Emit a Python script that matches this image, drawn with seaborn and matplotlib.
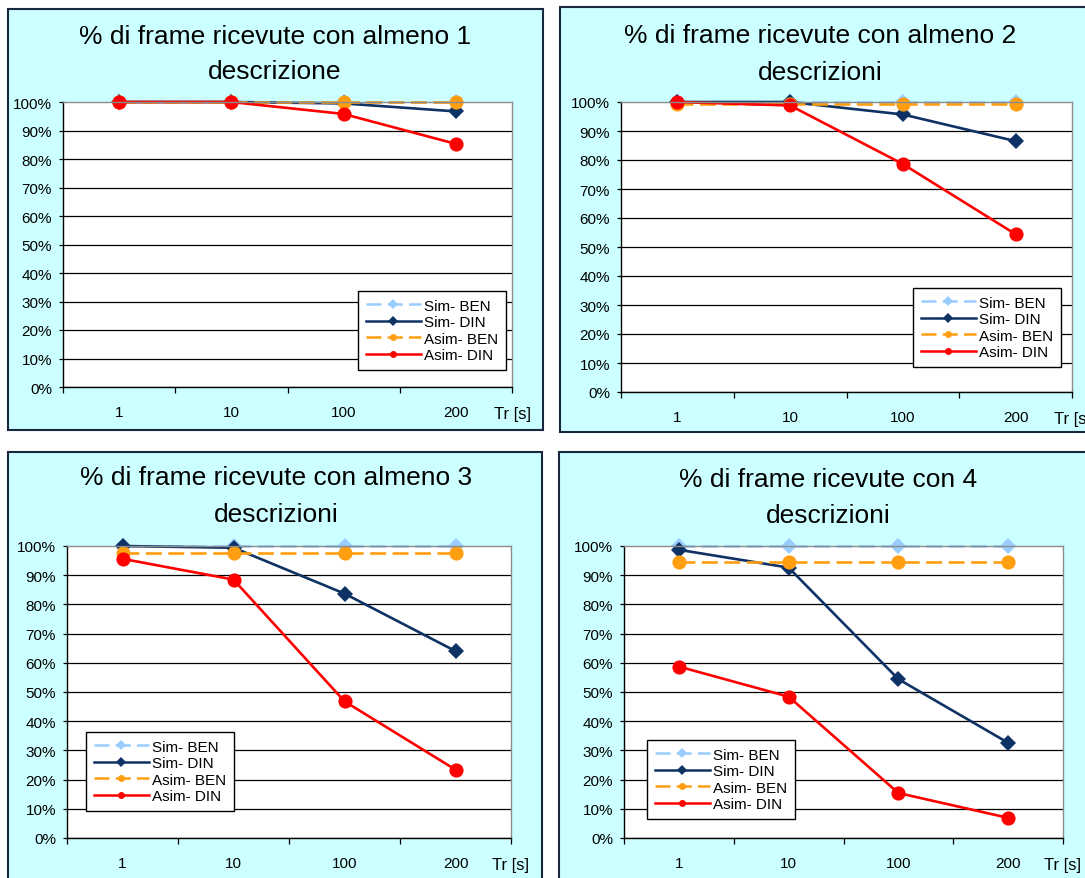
import matplotlib
matplotlib.use("Agg")
import matplotlib.pyplot as plt
from matplotlib.patches import Rectangle
from matplotlib.ticker import FixedLocator, FixedFormatter, NullFormatter
import pandas as pd
import seaborn as sns

# ---- data -------------------------------------------------------------
tr_labels = ["1", "10", "100", "200"]
series_names = ["Sim- BEN", "Sim- DIN", "Asim- BEN", "Asim- DIN"]

title_lines = [
    ["% di frame ricevute con almeno 1", "descrizione"],
    ["% di frame ricevute con almeno 2", "descrizioni"],
    ["% di frame ricevute con almeno 3", "descrizioni"],
    ["% di frame ricevute con 4", "descrizioni"],
]

# percentage of received frames for each Tr value
almeno1_sim_ben = [100, 100, 100, 100]
almeno1_sim_din = [100, 100, 99.5, 96.7]
almeno1_asim_ben = [100, 100, 100, 100]
almeno1_asim_din = [100, 100, 95.8, 85.3]

almeno2_sim_ben = [100, 100, 100, 100]
almeno2_sim_din = [100, 100, 95.7, 86.5]
almeno2_asim_ben = [99.2, 99.2, 99.2, 99.2]
almeno2_asim_din = [100, 98.8, 78.6, 54.4]

almeno3_sim_ben = [100, 100, 100, 100]
almeno3_sim_din = [100, 99.4, 83.7, 64.0]
almeno3_asim_ben = [97.7, 97.7, 97.7, 97.7]
almeno3_asim_din = [95.6, 88.5, 46.8, 23.4]

quattro_sim_ben = [100, 100, 100, 100]
quattro_sim_din = [98.7, 92.6, 54.4, 32.6]
quattro_asim_ben = [94.4, 94.4, 94.4, 94.4]
quattro_asim_din = [58.7, 48.4, 15.4, 6.9]

charts = [
    [almeno1_sim_ben, almeno1_sim_din, almeno1_asim_ben, almeno1_asim_din],
    [almeno2_sim_ben, almeno2_sim_din, almeno2_asim_ben, almeno2_asim_din],
    [almeno3_sim_ben, almeno3_sim_din, almeno3_asim_ben, almeno3_asim_din],
    [quattro_sim_ben, quattro_sim_din, quattro_asim_ben, quattro_asim_din],
]

# ---- style ------------------------------------------------------------
palette = {"Sim- BEN": "#99CCFF", "Sim- DIN": "#0F3264",
           "Asim- BEN": "#FF9E10", "Asim- DIN": "#FF0000"}
markers = {"Sim- BEN": "D", "Sim- DIN": "D", "Asim- BEN": "o", "Asim- DIN": "o"}
dashes = {"Sim- BEN": (6, 2.5), "Sim- DIN": "", "Asim- BEN": (6, 2.5), "Asim- DIN": ""}

W, H = 1085, 879
fig = plt.figure(figsize=(W / 100, H / 100), dpi=100, facecolor="white")
plt.rcParams["font.family"] = ["Liberation Sans", "DejaVu Sans"]


def fx(px):
    return px / W


def fy(py):
    return 1 - py / H


# pixel layout of each chart: frame box, plot area, legend corner, title
layout = [
    dict(frame=(8, 10, 543, 431), plot=(63, 103, 512, 388), legend=(358, 292), title=(275, 37, 72)),
    dict(frame=(560, 8, 1100, 433), plot=(621, 103, 1072, 393), legend=(913, 289), title=(820, 36, 73)),
    dict(frame=(8, 453, 542, 900), plot=(67, 547, 511, 839), legend=(86, 733), title=(276, 478, 515)),
    dict(frame=(559, 453, 1100, 900), plot=(624, 547, 1063, 839), legend=(647, 741), title=(828, 480, 516)),
]

for values, titles, lay in zip(charts, title_lines, layout):
    x0, y0, x1, y1 = lay["frame"]
    fig.patches.append(Rectangle((fx(x0), fy(y1)), fx(x1 - x0), (y1 - y0) / H,
                                 transform=fig.transFigure, facecolor="#CCFFFF",
                                 edgecolor="#1A2740", linewidth=1.5, zorder=-10))

    px0, py0, px1, py1 = lay["plot"]
    ax = fig.add_axes([fx(px0), fy(py1), fx(px1 - px0), (py1 - py0) / H])
    ax.set_facecolor("white")
    ax.set_axisbelow(True)

    df = pd.DataFrame({
        "pos": [i for _ in series_names for i in range(len(tr_labels))],
        "value": [v for vals in values for v in vals],
        "serie": [s for s in series_names for _ in tr_labels],
    })
    sns.lineplot(data=df, x="pos", y="value", hue="serie", style="serie",
                 hue_order=series_names, style_order=series_names,
                 palette=palette, markers=markers, dashes=dashes,
                 linewidth=1.9, markeredgewidth=0, sort=False, ax=ax)
    for ln in ax.lines:
        ln.set_clip_on(False)
        ln.set_markersize(8.0 if ln.get_marker() == "D" else 10.2)

    ax.set_xlim(-0.5, len(tr_labels) - 0.5)
    ax.set_ylim(0, 100)
    ax.set_xlabel("")
    ax.set_ylabel("")

    yt = list(range(0, 101, 10))
    ax.yaxis.set_major_locator(FixedLocator(yt))
    ax.yaxis.set_major_formatter(FixedFormatter([f"{v}%" for v in yt]))
    ax.tick_params(axis="y", direction="out", length=3, width=0.9, pad=5,
                   labelsize=11, colors="black")

    ax.xaxis.set_major_locator(FixedLocator([i - 0.5 for i in range(len(tr_labels) + 1)]))
    ax.xaxis.set_major_formatter(NullFormatter())
    ax.xaxis.set_minor_locator(FixedLocator(list(range(len(tr_labels)))))
    ax.xaxis.set_minor_formatter(FixedFormatter(tr_labels))
    ax.tick_params(axis="x", which="major", direction="out", length=4, width=0.9)
    ax.tick_params(axis="x", which="minor", length=0, pad=13, labelsize=11)

    ax.grid(axis="y", color="black", linewidth=0.9)
    ax.grid(axis="x", visible=False)
    ax.get_ygridlines()[-1].set_visible(False)

    for side in ("left", "bottom"):
        ax.spines[side].set_color("black")
        ax.spines[side].set_linewidth(1.0)
    for side in ("top", "right"):
        ax.spines[side].set_color("#8C8C8C")
        ax.spines[side].set_linewidth(1.0)

    fig.text(fx(px1), fy(py1 + 31), "Tr [s]", ha="center", va="baseline",
             fontsize=12, color="black")

    tx, ty1, ty2 = lay["title"]
    fig.text(fx(tx), fy(ty1), titles[0], ha="center", va="center", fontsize=19, color="black")
    fig.text(fx(tx), fy(ty2), titles[1], ha="center", va="center", fontsize=19, color="black")

    old = ax.get_legend()
    handles = list(old.legend_handles)
    labels = [t.get_text() for t in old.get_texts()]
    old.remove()
    lx, ly = lay["legend"]
    leg = ax.legend(handles, labels, loc="upper left",
                    bbox_to_anchor=(fx(lx), fy(ly)), bbox_transform=fig.transFigure,
                    borderaxespad=0, fontsize=11, frameon=True, fancybox=False,
                    framealpha=1, edgecolor="black", facecolor="white",
                    handlelength=3.6, handletextpad=0.25, labelspacing=0.17,
                    borderpad=0.5)
    leg.get_frame().set_linewidth(1.0)
    for h in leg.legend_handles:
        h.set_markersize(5)
        h.set_linewidth(1.8)

fig.savefig("out.png", dpi=100, facecolor="white")
